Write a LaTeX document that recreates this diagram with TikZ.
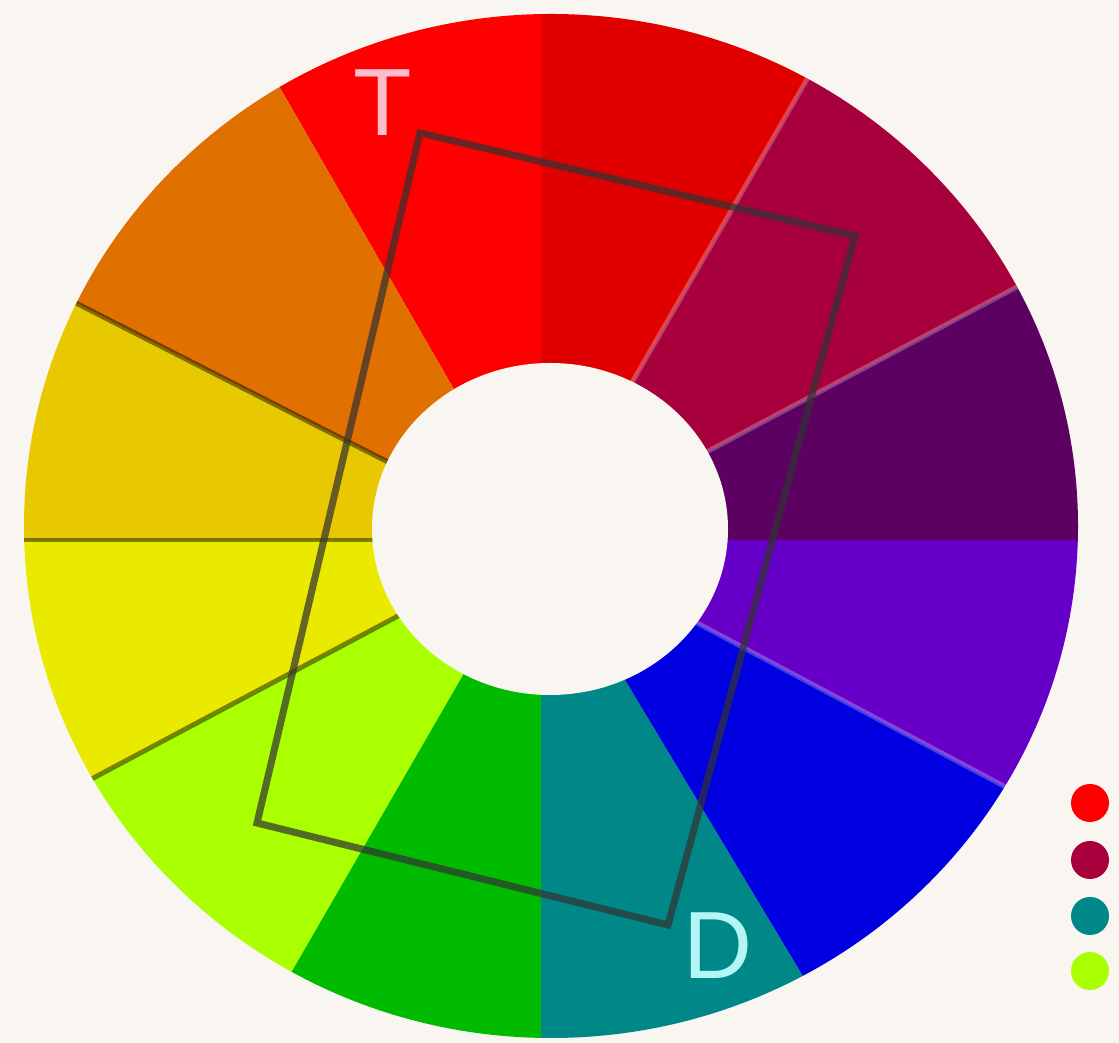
\documentclass[tikz,border=0pt]{standalone}
\usepackage{fontspec}
\setmainfont{Liberation Sans}
\usepackage{xcolor}
\usepackage{tikz}
\usetikzlibrary{positioning, calc}

\definecolor{paper}{RGB}{249,245,241}
\definecolor{hueviolet}{RGB}{92,0,98}
\definecolor{huecrimson}{RGB}{168,0,60}
\definecolor{huedeepred}{RGB}{224,0,0}
\definecolor{huered}{RGB}{255,0,0}
\definecolor{hueorange}{RGB}{224,112,0}
\definecolor{hueamber}{RGB}{232,200,0}
\definecolor{hueyellow}{RGB}{234,234,0}
\definecolor{huelime}{RGB}{170,255,0}
\definecolor{huegreen}{RGB}{0,187,0}
\definecolor{hueteal}{RGB}{0,136,136}
\definecolor{hueblue}{RGB}{0,0,224}
\definecolor{huepurple}{RGB}{102,0,200}
\definecolor{tpink}{RGB}{250,190,205}
\definecolor{dcyan}{RGB}{180,245,245}

\begin{document}
\begin{tikzpicture}[x=0.025cm, y=0.025cm,
    letter/.style={inner sep=0pt, font=\fontsize{68}{68}\selectfont},
    swatch/.style={circle, minimum size=0.95cm, inner sep=0pt},
    frame/.style={draw=black!80, line width=5pt, opacity=0.72, line join=miter}]

  \useasboundingbox[fill=paper] (0,0) rectangle (1119,1043);
  \coordinate (V) at (541,503);

  % wheel
  \begin{scope}
    \clip (551,517) ellipse [x radius=527, y radius=512];
    \foreach \a/\b/\c in {0/28/hueviolet, 28/60/huecrimson, 60/90/huedeepred,
        90/120/huered, 120/153/hueorange, 153/180/hueamber, 180/208/hueyellow,
        208/240/huelime, 240/270/huegreen, 270/301/hueteal, 301/332/hueblue,
        332/360/huepurple}
      \fill[\c] (V) -- +(\a:1500) -- +(\b:1500) -- cycle;
    \foreach \a in {153,180,208}
      \draw[black, opacity=0.45, line width=3.5pt] (V) -- +(\a:1500);
    \foreach \a in {28,60,332}
      \draw[white, opacity=0.25, line width=3.5pt] (V) -- +(\a:1500);
  \end{scope}
  \fill[paper] (550,514) ellipse [x radius=178, y radius=166];

  % tetrad
  \coordinate (tl) at (420,910);
  \coordinate (tr) at (855,807);
  \coordinate (br) at (668,118);
  \coordinate (bl) at (257,220);
  \draw[frame] (tl) -- (tr) -- (br) -- (bl) -- cycle;

  \node[letter, text=tpink] (T) at (383,940) {T};
  \node[letter, text=dcyan] (D) at (718,97) {D};

  % swatches
  \node[swatch, fill=huered] (s1) at (1090,240) {};
  \node[swatch, fill=huecrimson] (s2) at (1090,183) {};
  \node[swatch, fill=hueteal] (s3) at (1090,127) {};
  \node[swatch, fill=huelime] (s4) at (1090,72) {};
\end{tikzpicture}
\end{document}
